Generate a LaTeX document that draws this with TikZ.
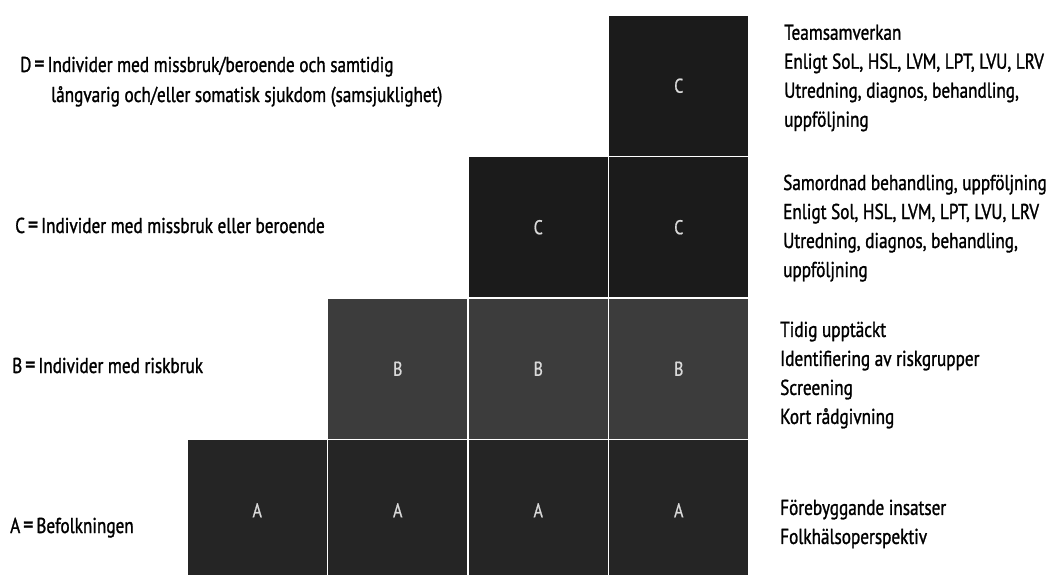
\documentclass[tikz,border=0pt]{standalone}
\usepackage{fontspec}
\setmainfont{PT Sans}[FakeStretch=0.8,FakeBold=1.2]
\newfontfamily\cellfont{PT Sans}[FakeStretch=0.8,FakeBold=0.8]
\definecolor{cellC}{HTML}{1B1B1B}
\definecolor{cellB}{HTML}{3C3C3C}
\definecolor{cellA}{HTML}{252525}
\definecolor{letter}{HTML}{DADADA}
\tikzset{
  cell/.style={draw=white, line width=1.6pt, minimum width=140.5pt, minimum height=141.5pt,
    inner sep=0pt, outer sep=0pt, text=letter, font=\cellfont\fontsize{20}{22}\selectfont},
  cellc/.style={cell, fill=cellC},
  cellb/.style={cell, fill=cellB},
  cella/.style={cell, fill=cellA},
  lbl/.style={anchor=base west, inner sep=0pt, font=\fontsize{21.5}{29}\selectfont},
  desc/.style={anchor=north west, inner sep=0pt, align=left, font=\fontsize{21.5}{29}\selectfont},
}
\newcommand{\eqsp}{\hspace{3pt}{\fontsize{25}{29}\selectfont=}\hspace{3pt}}
\begin{document}
\begin{tikzpicture}[x=1pt,y=-1pt]
\useasboundingbox (0,0) rectangle (1050,575);
\fill[white] (0,0) rectangle (1050,575);
% grid: columns start at 187, width 140.5; rows start at 15, height 141.5
\node[cellc] (c1) at (678.75,85.75) {C};
\node[cellc] (c2) at (538.25,227.25) {C};
\node[cellc] (c3) at (678.75,227.25) {C};
\node[cellb] (b1) at (397.75,368.75) {B};
\node[cellb] (b2) at (538.25,368.75) {B};
\node[cellb] (b3) at (678.75,368.75) {B};
\node[cella] (a1) at (257.25,510.25) {A};
\node[cella] (a2) at (397.75,510.25) {A};
\node[cella] (a3) at (538.25,510.25) {A};
\node[cella] (a4) at (678.75,510.25) {A};
% left labels
\node[lbl] (dt1) at (20,72) {D\eqsp Individer med missbruk/beroende och samtidig};
\node[lbl] (dt2) at (51,102) {långvarig och/eller somatisk sjukdom (samsjuklighet)};
\node[lbl] (cl) at (15,233) {C\eqsp Individer med missbruk eller beroende};
\node[lbl] (bl) at (12,373) {B\eqsp Individer med riskbruk};
\node[lbl] (al) at (10,533) {A\eqsp Befolkningen};
% right descriptions
\node[desc] (dd) at (784,24.5) {Teamsamverkan\\Enligt SoL, HSL, LVM, LPT, LVU, LRV\\Utredning, diagnos, behandling,\\uppföljning};
\node[desc] (cd) at (783,174.5) {Samordnad behandling, uppföljning\\Enligt Sol, HSL, LVM, LPT, LVU, LRV\\Utredning, diagnos, behandling,\\uppföljning};
\node[desc] (bd) at (780,321.5) {Tidig upptäckt\\Identifiering av riskgrupper\\Screening\\Kort rådgivning};
\node[desc] (ad) at (780,499.5) {Förebyggande insatser\\Folkhälsoperspektiv};
\end{tikzpicture}
\end{document}
